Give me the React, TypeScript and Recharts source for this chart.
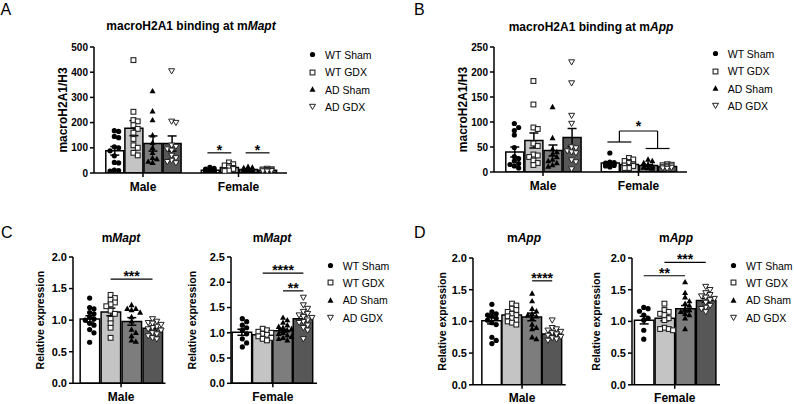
import React from 'react';
import {
  ComposedChart, Bar, Cell, ErrorBar, Scatter, XAxis, YAxis, ReferenceLine, Legend,
} from 'recharts';

const groups = ['WT Sham', 'WT GDX', 'AD Sham', 'AD GDX'];
const sexes = ['Male', 'Female'];
const barFills = ['#ffffff', '#c4c4c4', '#7d7d7d', '#575757'];

// A: macroH2A1 ChIP at mMapt (macroH2A1/H3)
const chipMaptMaleMean = [88, 178, 117, 117];
const chipMaptMaleSem = [17, 30, 30, 30];
const chipMaptFemaleMean = [11, 22, 14, 11];
const chipMaptFemaleSem = [2, 4, 2, 1.5];
const chipMaptMale = [
  [168, 165, 145, 140, 104, 100, 88, 68, 42, 40, 12, 10, 8],
  [448, 243, 210, 205, 190, 175, 160, 135, 110, 100, 80, 70],
  [325, 245, 210, 150, 120, 100, 80, 60, 55, 45, 40, 40],
  [405, 205, 200, 110, 105, 95, 90, 70, 60, 50, 45, 40],
];
const chipMaptFemale = [
  [22, 18, 15, 12, 10, 10, 9, 8, 7, 6, 5],
  [42, 35, 30, 28, 22, 20, 16, 12, 10, 8],
  [25, 22, 20, 18, 16, 14, 13, 12, 10, 9, 8, 6],
  [18, 16, 15, 13, 12, 11, 10, 9, 8, 7],
];
const chipMaptTicks = [0, 100, 200, 300, 400, 500];

// B: macroH2A1 ChIP at mApp
const chipAppMaleMean = [40, 63, 43, 69];
const chipAppMaleSem = [10, 15, 11, 18];
const chipAppFemaleMean = [18, 15, 13, 11];
const chipAppFemaleSem = [2.5, 2, 1.5, 1];
const chipAppMale = [
  [97, 89, 83, 74, 49, 31, 27, 22, 17, 15, 12, 8],
  [182, 135, 89, 86, 57, 52, 35, 33, 30, 23, 18, 14],
  [130, 68, 46, 40, 36, 30, 25, 22, 18, 14, 11],
  [220, 178, 113, 97, 50, 48, 42, 40, 38, 24, 20, 6],
];
const chipAppFemale = [
  [38, 20, 19, 18, 17, 16, 15, 14, 13, 12, 10],
  [28, 25, 22, 20, 18, 15, 13, 12, 10, 8, 8],
  [25, 22, 18, 15, 14, 12, 11, 10, 9, 8, 7],
  [16, 15, 14, 13, 12, 11, 10, 9, 8, 7],
];
const chipAppTicks = [0, 50, 100, 150, 200, 250];

// C: mMapt relative expression
const maptMaleMean = [1.02, 1.13, 0.98, 0.87];
const maptMaleSem = [0.05, 0.06, 0.06, 0.03];
const maptMale = [
  [1.35, 1.2, 1.18, 1.12, 1.1, 1.05, 1.02, 1.0, 0.95, 0.92, 0.85, 0.8, 0.65],
  [1.4, 1.35, 1.32, 1.28, 1.25, 1.22, 1.15, 1.1, 1.02, 0.95, 0.88, 0.72],
  [1.24, 1.18, 1.18, 1.16, 1.12, 1.05, 0.98, 0.85, 0.8, 0.75, 0.68, 0.66],
  [1.02, 0.98, 0.96, 0.95, 0.93, 0.9, 0.88, 0.86, 0.84, 0.8, 0.78, 0.75, 0.72, 0.7],
];
const maptFemaleMean = [1.01, 0.96, 1.04, 1.28];
const maptFemaleSem = [0.06, 0.02, 0.03, 0.05];
const maptFemale = [
  [1.28, 1.22, 1.15, 1.1, 1.05, 0.98, 0.88, 0.8, 0.72],
  [1.08, 1.05, 1.02, 1.0, 0.98, 0.96, 0.93, 0.9, 0.88, 0.85],
  [1.3, 1.25, 1.2, 1.15, 1.12, 1.1, 1.08, 1.05, 1.0, 0.98, 0.95, 0.92, 0.9, 0.88, 0.85],
  [1.7, 1.55, 1.48, 1.42, 1.38, 1.35, 1.32, 1.3, 1.25, 1.22, 1.2, 1.15, 1.1, 1.05, 0.88],
];

// D: mApp relative expression
const appMaleMean = [1.01, 1.1, 1.07, 0.8];
const appMaleSem = [0.05, 0.03, 0.06, 0.02];
const appMale = [
  [1.27, 1.15, 1.12, 1.1, 1.08, 1.05, 1.02, 0.98, 0.95, 0.75, 0.7, 0.65],
  [1.28, 1.25, 1.2, 1.18, 1.15, 1.12, 1.1, 1.08, 1.05, 1.02, 1.0, 0.98, 0.95],
  [1.44, 1.32, 1.2, 1.16, 1.12, 1.1, 1.08, 1.05, 0.95, 0.9, 0.88, 0.75, 0.72],
  [1.02, 0.9, 0.88, 0.86, 0.84, 0.82, 0.8, 0.78, 0.76, 0.74, 0.72, 0.7],
];
const appFemaleMean = [1.02, 1.05, 1.2, 1.33];
const appFemaleSem = [0.06, 0.04, 0.05, 0.03];
const appFemale = [
  [1.22, 1.2, 1.16, 1.1, 1.05, 1.02, 0.86, 0.72],
  [1.28, 1.18, 1.15, 1.12, 1.1, 1.05, 1.02, 0.9, 0.88, 0.88, 0.86],
  [1.62, 1.45, 1.38, 1.32, 1.28, 1.25, 1.2, 1.18, 1.15, 1.12, 1.1, 1.05, 0.88],
  [1.55, 1.5, 1.45, 1.42, 1.4, 1.38, 1.36, 1.34, 1.3, 1.25, 1.22, 1.2, 1.15],
];
const exprTicks20 = [0, 0.5, 1, 1.5, 2];
const exprTicks25 = [0, 0.5, 1, 1.5, 2, 2.5];

// significance bars: indices into each chart's bar list
const chipMaptSig = [
  { from: 4, to: 5, y: 80, text: '*' },
  { from: 6, to: 7, y: 80, text: '*' },
];
const chipAppBracket = { left: [4, 5], right: [6, 7], leftY: 60, rightY: 47, topY: 82, text: '*' };
const maptMaleSig = [{ from: 1, to: 3, y: 1.65, text: '***' }];
const maptFemaleSig = [
  { from: 1, to: 3, y: 2.18, text: '****' },
  { from: 2, to: 3, y: 1.83, text: '**' },
];
const appMaleSig = [{ from: 2, to: 3, y: 1.64, text: '****' }];
const appFemaleSig = [
  { from: 0, to: 2, y: 1.72, text: '**' },
  { from: 1, to: 3, y: 1.93, text: '***' },
];

type Pt = { x: number; y: number };
type BarRow = { x: number; mean: number; sem: number; g: number };
type Sig = { from: number; to: number; y: number; text: string };

interface Spec {
  plot: [number, number, number, number];
  xDomain: [number, number];
  xTicks: number[];
  xLabels: string[];
  yTicks: number[];
  yDigits: number;
  yLabel: string;
  yLabelX: number;
  yLabelSize: number;
  tickFont: number;
  barSize: number;
  bars: BarRow[];
  values: number[][]; // raw points, one list per bar
  sig: Sig[];
  linePad: number;
  bracket?: typeof chipAppBracket;
  legend?: [number, number];
}

const AXIS = { stroke: '#000', strokeWidth: 1.5 };
const Y_AXIS_W = 70;
const X_AXIS_H = 28;

function Marker({ kind, cx, cy }: { kind: number; cx: number; cy: number }) {
  if (kind === 0) return <circle cx={cx} cy={cy} r={2.6} fill="#000" />;
  if (kind === 1) {
    return <rect x={cx - 2.4} y={cy - 2.4} width={4.8} height={4.8} fill="#fff" stroke="#222" strokeWidth={1.1} />;
  }
  if (kind === 2) return <path d={`M${cx},${cy - 3.2}L${cx + 3},${cy + 2.2}L${cx - 3},${cy + 2.2}Z`} fill="#000" />;
  return (
    <path d={`M${cx},${cy + 3}L${cx + 3},${cy - 2.2}L${cx - 3},${cy - 2.2}Z`} fill="#fff" stroke="#222" strokeWidth={1} />
  );
}

// spread overlapping points sideways inside their bar (pixel units)
function swarm(values: number[], pxPerY: number, step: number, maxOff: number): number[] {
  const placed: [number, number][] = [];
  const offsets = values.map(() => 0);
  const order = values.map((_, i) => i).sort((a, b) => values[b] - values[a]);
  const cands = [0];
  for (let k = 1; k * step <= maxOff + 0.01; k++) cands.push(k * step, -k * step);
  for (const i of order) {
    const py = values[i] * pxPerY;
    let best = 0;
    let bestHits = Infinity;
    for (const c of cands) {
      const hits = placed.reduce((n, [px, qy]) => n + (Math.hypot(px - c, qy - py) < step ? 1 : 0), 0);
      if (hits < bestHits) {
        best = c;
        bestHits = hits;
      }
      if (hits === 0) break;
    }
    offsets[i] = best;
    placed.push([best, py]);
  }
  return offsets;
}

function LegendBox({ payload }: { payload?: any[] }) {
  const items = (payload || [])
    .filter((p) => groups.includes(p.value))
    .sort((a, b) => groups.indexOf(a.value) - groups.indexOf(b.value));
  return (
    <div style={{ fontSize: 10.5, color: '#000' }}>
      {items.map((p) => (
        <div key={p.value} style={{ display: 'flex', alignItems: 'center', height: 17.3, whiteSpace: 'nowrap' }}>
          <svg width={9} height={9} style={{ overflow: 'visible' }}>
            <Marker kind={groups.indexOf(p.value)} cx={4.5} cy={4.5} />
          </svg>
          <span style={{ marginLeft: 8.3 }}>{p.value}</span>
        </div>
      ))}
    </div>
  );
}

function GroupChart({ spec }: { spec: Spec }) {
  const [x0, y0, x1, y1] = spec.plot;
  const left = x0 - Y_AXIS_W;
  const top = y0 - 12;
  const right = spec.legend ? spec.legend[0] + 70 : x1 + 4;
  const width = right - left;
  const height = y1 + X_AXIS_H - top;
  const yMax = spec.yTicks[spec.yTicks.length - 1];
  const pxPerY = (y1 - y0) / yMax;
  const pxPerX = (x1 - x0) / (spec.xDomain[1] - spec.xDomain[0]);

  const points: Pt[][] = groups.map(() => []);
  spec.bars.forEach((b, i) => {
    const vals = spec.values[i];
    const offs = swarm(vals, pxPerY, 4.3, spec.barSize / 2 - 0.5);
    vals.forEach((v, k) => points[b.g].push({ x: b.x + offs[k] / pxPerX, y: v }));
  });

  const starLabel = (text: string, offset: number) => ({
    value: text, position: 'top', offset, fontSize: 14, fontWeight: 'bold', fill: '#000',
  });
  const bx = (i: number) => spec.bars[i].x;
  const pad = spec.linePad / pxPerX;
  const br = spec.bracket;

  return (
    <div style={{ position: 'absolute', left, top }}>
      <ComposedChart
        width={width}
        height={height}
        data={spec.bars}
        margin={{ top: 12, right: right - x1, bottom: 0, left: 0 }}
      >
        <XAxis
          type="number"
          dataKey="x"
          domain={spec.xDomain}
          allowDataOverflow
          ticks={spec.xTicks}
          interval={0}
          tickFormatter={(v: number) => spec.xLabels[spec.xTicks.indexOf(v)] ?? ''}
          height={X_AXIS_H}
          tickSize={4}
          tickMargin={5}
          axisLine={AXIS}
          tickLine={AXIS}
          tick={{ fontSize: 12, fontWeight: 'bold', fill: '#000' }}
        />
        {/* same scale, holds only the bars so their band width comes from bar spacing */}
        <XAxis xAxisId="bars" type="number" dataKey="x" domain={spec.xDomain} allowDataOverflow hide />
        <YAxis
          type="number"
          domain={[0, yMax]}
          allowDataOverflow
          ticks={spec.yTicks}
          interval={0}
          width={Y_AXIS_W}
          tickSize={4}
          tickMargin={2}
          axisLine={AXIS}
          tickLine={AXIS}
          tickFormatter={(v: number) => v.toFixed(spec.yDigits)}
          tick={{ fontSize: spec.tickFont, fontWeight: 'bold', fill: '#000' }}
          label={{
            value: spec.yLabel,
            angle: -90,
            position: 'insideLeft',
            offset: spec.yLabelX - left,
            style: { textAnchor: 'middle', fontWeight: 'bold', fontSize: spec.yLabelSize, fill: '#000' },
          }}
        />
        <Bar
          xAxisId="bars"
          dataKey="mean"
          barSize={spec.barSize}
          stroke="#000"
          strokeWidth={1.5}
          legendType="none"
          isAnimationActive={false}
        >
          {spec.bars.map((b, i) => (
            <Cell key={i} fill={barFills[b.g]} />
          ))}
          <ErrorBar dataKey="sem" width={4.5} stroke="#000" strokeWidth={1.5} direction="y" />
        </Bar>
        {groups.map((g, gi) => (
          <Scatter
            key={g}
            name={g}
            data={points[gi]}
            dataKey="y"
            fill="#000"
            isAnimationActive={false}
            shape={(p: any) => <Marker kind={gi} cx={p.cx} cy={p.cy} />}
          />
        ))}
        {spec.sig.map((s, i) => (
          <ReferenceLine
            key={`sig${i}`}
            segment={[{ x: bx(s.from) - pad, y: s.y }, { x: bx(s.to) + pad, y: s.y }]}
            stroke="#000"
            strokeWidth={1.2}
            label={starLabel(s.text, -2)}
          />
        ))}
        {br && (() => {
          const lm = (bx(br.left[0]) + bx(br.left[1])) / 2;
          const rm = (bx(br.right[0]) + bx(br.right[1])) / 2;
          return [
            <ReferenceLine key="bl" segment={[{ x: bx(br.left[0]) - pad, y: br.leftY }, { x: bx(br.left[1]) + pad, y: br.leftY }]} stroke="#000" strokeWidth={1.2} />,
            <ReferenceLine key="brr" segment={[{ x: bx(br.right[0]) - pad, y: br.rightY }, { x: bx(br.right[1]) + pad, y: br.rightY }]} stroke="#000" strokeWidth={1.2} />,
            <ReferenceLine key="bv1" segment={[{ x: lm, y: br.leftY }, { x: lm, y: br.topY }]} stroke="#000" strokeWidth={1.2} />,
            <ReferenceLine key="bv2" segment={[{ x: rm, y: br.rightY }, { x: rm, y: br.topY }]} stroke="#000" strokeWidth={1.2} />,
            <ReferenceLine key="bt" segment={[{ x: lm, y: br.topY }, { x: rm, y: br.topY }]} stroke="#000" strokeWidth={1.2} label={starLabel(br.text, 0)} />,
          ];
        })()}
        {spec.legend && (
          <Legend
            layout="vertical"
            align="center"
            verticalAlign="middle"
            content={(props: any) => <LegendBox payload={props.payload} />}
            wrapperStyle={{ left: spec.legend[0] - left, top: spec.legend[1] - 8.65 - top, width: 'auto' }}
          />
        )}
      </ComposedChart>
    </div>
  );
}

// two sexes x four groups on one axis
function sexBars(maleMean: number[], maleSem: number[], femMean: number[], femSem: number[]): BarRow[] {
  const rows: BarRow[] = [];
  [[maleMean, maleSem], [femMean, femSem]].forEach(([m, s], si) => {
    m.forEach((v, g) => rows.push({ x: si + 1 + (g - 1.5) * 0.2, mean: v, sem: s[g], g }));
  });
  return rows;
}

function groupBars(mean: number[], sem: number[]): BarRow[] {
  return mean.map((v, g) => ({ x: g + 1, mean: v, sem: sem[g], g }));
}

const chipCommon = {
  xDomain: [0.487, 2.508] as [number, number],
  xTicks: [1, 2],
  xLabels: sexes,
  yDigits: 0,
  yLabel: 'macroH2A1/H3',
  yLabelSize: 12,
  tickFont: 10,
  barSize: 18,
  linePad: 2.4,
};

const exprCommon = {
  xTicks: [2.5],
  yDigits: 1,
  yLabel: 'Relative expression',
  yLabelSize: 10.5,
  tickFont: 11,
  barSize: 19.5,
  linePad: 0,
};

const specA: Spec = {
  ...chipCommon,
  plot: [94, 47, 287, 173],
  yTicks: chipMaptTicks,
  yLabelX: 62.5,
  bars: sexBars(chipMaptMaleMean, chipMaptMaleSem, chipMaptFemaleMean, chipMaptFemaleSem),
  values: [...chipMaptMale, ...chipMaptFemale],
  sig: chipMaptSig,
  legend: [307.8, 55],
};

const specB: Spec = {
  ...chipCommon,
  plot: [494, 47, 687, 172],
  yTicks: chipAppTicks,
  yLabelX: 462.5,
  bars: sexBars(chipAppMaleMean, chipAppMaleSem, chipAppFemaleMean, chipAppFemaleSem),
  values: [...chipAppMale, ...chipAppFemale],
  sig: [],
  bracket: chipAppBracket,
  legend: [710.5, 54],
};

const specCMale: Spec = {
  ...exprCommon,
  plot: [72.5, 257, 165, 383.3],
  xDomain: [0.206, 4.62],
  xLabels: ['Male'],
  yTicks: exprTicks20,
  yLabelX: 40,
  bars: groupBars(maptMaleMean, maptMaleSem),
  values: maptMale,
  sig: maptMaleSig,
};

const specCFemale: Spec = {
  ...exprCommon,
  plot: [231, 257, 317, 383.3],
  xDomain: [0.443, 4.67],
  xLabels: ['Female'],
  yTicks: exprTicks25,
  yLabelX: 192.5,
  bars: groupBars(maptFemaleMean, maptFemaleSem),
  values: maptFemale,
  sig: maptFemaleSig,
  legend: [325.5, 265.7],
};

const specDMale: Spec = {
  ...exprCommon,
  plot: [473.3, 257.5, 566, 384.3],
  xDomain: [0.06, 4.67],
  xLabels: ['Male'],
  yTicks: exprTicks20,
  yLabelX: 443,
  bars: groupBars(appMaleMean, appMaleSem),
  values: appMale,
  sig: appMaleSig,
};

const specDFemale: Spec = {
  ...exprCommon,
  plot: [632, 257.5, 720, 384.3],
  xDomain: [0.43, 4.69],
  xLabels: ['Female'],
  yTicks: exprTicks20,
  yLabelX: 596,
  bars: groupBars(appFemaleMean, appFemaleSem),
  values: appFemale,
  sig: appFemaleSig,
  legend: [728.8, 265.7],
};

function Title({ cx, top, children }: { cx: number; top: number; children: React.ReactNode }) {
  return (
    <div
      style={{
        position: 'absolute', left: cx - 150, width: 300, top, textAlign: 'center',
        fontSize: 12, fontWeight: 'bold', lineHeight: '14px', whiteSpace: 'nowrap',
      }}
    >
      {children}
    </div>
  );
}

function Letter({ x, y, text }: { x: number; y: number; text: string }) {
  return (
    <div style={{ position: 'absolute', left: x, top: y, fontSize: 16, lineHeight: '17px' }}>{text}</div>
  );
}

export default function App() {
  return (
    <div
      style={{
        position: 'absolute', left: 0, top: 0, width: 794, height: 404, overflow: 'hidden',
        background: '#fff', color: '#000', fontFamily: '"Liberation Sans", Arial, sans-serif',
      }}
    >
      <Letter x={0.5} y={0.5} text="A" />
      <Letter x={414} y={0.5} text="B" />
      <Letter x={1} y={223.5} text="C" />
      <Letter x={414} y={223.5} text="D" />

      <Title cx={191} top={19}>macroH2A1 binding at m<i>Mapt</i></Title>
      <Title cx={591} top={20}>macroH2A1 binding at m<i>App</i></Title>
      <Title cx={121} top={230.8}>m<i>Mapt</i></Title>
      <Title cx={272} top={230.8}>m<i>Mapt</i></Title>
      <Title cx={524} top={231}>m<i>App</i></Title>
      <Title cx={676} top={231}>m<i>App</i></Title>

      <GroupChart spec={specA} />
      <GroupChart spec={specB} />
      <GroupChart spec={specCMale} />
      <GroupChart spec={specCFemale} />
      <GroupChart spec={specDMale} />
      <GroupChart spec={specDFemale} />
    </div>
  );
}
